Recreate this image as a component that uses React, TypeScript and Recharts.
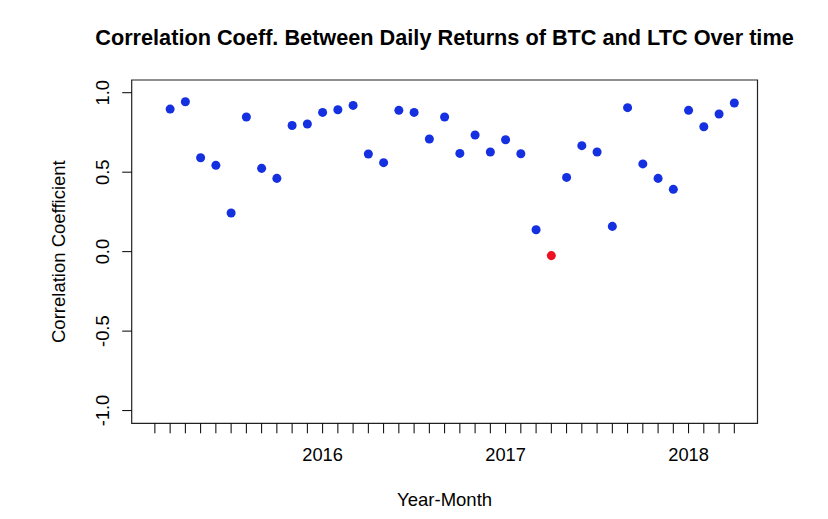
import { ScatterChart, Scatter, XAxis, YAxis, ReferenceArea, Cell } from "recharts"

// monthly correlation between BTC and LTC daily returns
const months = [
  "2015-03", "2015-04", "2015-05", "2015-06", "2015-07", "2015-08", "2015-09", "2015-10", "2015-11", "2015-12",
  "2016-01", "2016-02", "2016-03", "2016-04", "2016-05", "2016-06", "2016-07", "2016-08", "2016-09", "2016-10",
  "2016-11", "2016-12", "2017-01", "2017-02", "2017-03", "2017-04", "2017-05", "2017-06", "2017-07", "2017-08",
  "2017-09", "2017-10", "2017-11", "2017-12", "2018-01", "2018-02", "2018-03", "2018-04",
]
const correlations = [
  0.897, 0.943, 0.591, 0.543, 0.243, 0.847, 0.524, 0.461, 0.794, 0.803,
  0.876, 0.893, 0.92, 0.614, 0.56, 0.889, 0.876, 0.709, 0.847, 0.618,
  0.734, 0.627, 0.704, 0.616, 0.138, -0.025, 0.467, 0.667, 0.627, 0.159,
  0.906, 0.552, 0.461, 0.392, 0.889, 0.786, 0.866, 0.935,
]
const firstTickMonth = "2015-02"
const yTicks = [-1, -0.5, 0, 0.5, 1]
const yearLabels = ["2016", "2017", "2018"]

const FONT = '"Liberation Sans", Arial, Helvetica, sans-serif'
const X_DOMAIN: [number, number] = [-2.52, 38.52]
const Y_DOMAIN: [number, number] = [-1.08, 1.08]

const data = months.map((m, i) => ({ x: i, y: correlations[i], month: m }))
const minValue = Math.min(...correlations)
// tick for every month, starting one month before the first point
const xTicks = [firstTickMonth, ...months].map((_, i) => i - 1)
const yearTickIndex = yearLabels.map((y) => months.indexOf(`${y}-01`))

const XTick = (props: any) => {
  const { x, y, payload } = props
  const k = yearTickIndex.indexOf(payload.value)
  if (k < 0) return null
  return (
    <text x={x} y={y + 19} dy="0.35em" textAnchor="middle" fontSize={18.3} fontFamily={FONT} fill="#000">
      {yearLabels[k]}
    </text>
  )
}

const YTick = (props: any) => {
  const { x, y, payload } = props
  const cx = x - 18
  return (
    <text
      x={cx}
      y={y}
      dy="0.35em"
      textAnchor="middle"
      fontSize={18.3}
      fontFamily={FONT}
      fill="#000"
      transform={`rotate(-90, ${cx}, ${y})`}
    >
      {Number(payload.value).toFixed(1)}
    </text>
  )
}

export default function App() {
  return (
    <div style={{ position: "absolute", left: 0, top: 0, width: 828, height: 519, background: "#fff" }}>
      <div
        style={{
          position: "absolute",
          left: 0,
          top: 27,
          width: 889,
          textAlign: "center",
          fontFamily: FONT,
          fontWeight: "bold",
          fontSize: 21.7,
          lineHeight: 1,
          color: "#000",
          whiteSpace: "nowrap",
        }}
      >
        Correlation Coeff. Between Daily Returns of BTC and LTC Over time
      </div>
      <ScatterChart width={828} height={519} margin={{ top: 80, right: 70.5, bottom: 0, left: 0 }}>
        <XAxis
          type="number"
          dataKey="x"
          domain={X_DOMAIN}
          ticks={xTicks}
          interval={0}
          allowDataOverflow
          height={95.7}
          axisLine={false}
          tickLine={{ stroke: "#000" }}
          tickSize={10}
          tick={<XTick />}
          label={{
            value: "Year-Month",
            position: "insideBottom",
            offset: 12.6,
            style: { fontSize: 18.5, fontFamily: FONT, fill: "#000" },
          }}
        />
        <YAxis
          type="number"
          dataKey="y"
          domain={Y_DOMAIN}
          ticks={yTicks}
          interval={0}
          allowDataOverflow
          width={131.7}
          axisLine={false}
          tickLine={{ stroke: "#000" }}
          tickSize={9.5}
          tick={<YTick />}
          label={{
            value: "Correlation Coefficient",
            angle: -90,
            position: "insideLeft",
            offset: 58,
            style: { textAnchor: "middle", fontSize: 18.5, fontFamily: FONT, fill: "#000" },
          }}
        />
        <ReferenceArea
          x1={X_DOMAIN[0]}
          x2={X_DOMAIN[1]}
          y1={Y_DOMAIN[0]}
          y2={Y_DOMAIN[1]}
          fill="none"
          stroke="#222"
          strokeWidth={1.2}
          ifOverflow="visible"
        />
        <Scatter data={data} isAnimationActive={false}>
          {data.map((d) => (
            <Cell key={d.month} fill={d.y === minValue ? "#ee1122" : "#1530e0"} />
          ))}
        </Scatter>
      </ScatterChart>
    </div>
  )
}
